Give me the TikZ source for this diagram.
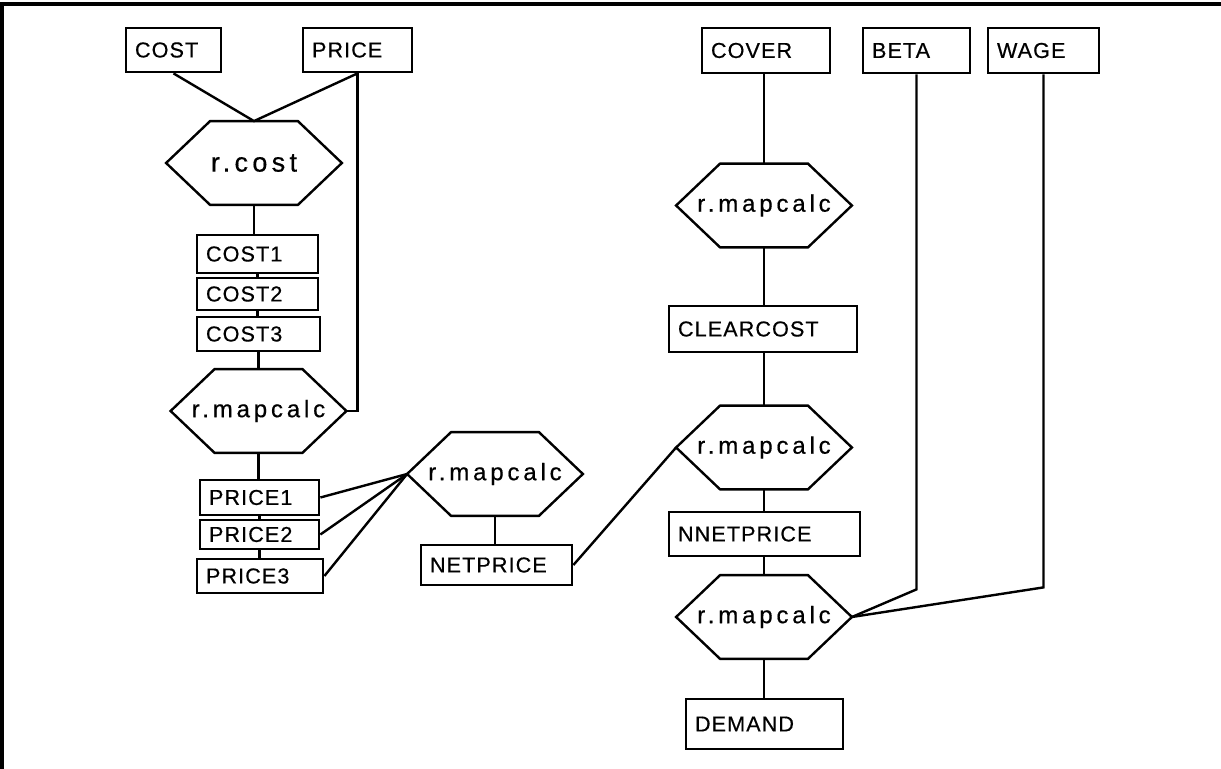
\documentclass[tikz,border=0pt]{standalone}
\usepackage{fontspec}
\setmainfont{Liberation Sans}
\newfontfamily\boxfont{Liberation Sans}[LetterSpace=5,FakeBold=0.5]
\newfontfamily\hexfont{Liberation Sans}[LetterSpace=16,FakeBold=0.5]
\usepackage{tikz}
\usetikzlibrary{positioning,calc}

\tikzset{
    mapbox/.style={draw, line width=1.4pt, inner xsep=4.5pt, inner ysep=0pt, align=left,
        font={\boxfont\fontsize{10.8}{12}\selectfont}},
    cmdhex/.style={inner sep=0pt, minimum width=87.5pt, minimum height=41.5pt,
        font={\hexfont\fontsize{12}{13}\selectfont}},
    link/.style={line width=1.2pt}
}

\begin{document}
\begin{tikzpicture}[x=0.5pt,y=-0.5pt]
    \useasboundingbox (0,0) rectangle (1221,769);
    \draw [line width=1.6pt] (1221,4) -- (2,4) -- (2,769);

    % left part
    \node [mapbox, text width=38.5pt, minimum height=22pt] (cost) at (173.5,50) {COST};
    \node [mapbox, text width=45.5pt, minimum height=22pt] (price) at (357.5,50) {PRICE};
    \node [cmdhex, font={\hexfont\fontsize{13.5}{14}\selectfont}] (rcost) at (254,163) {r.cost};
    \node [mapbox, text width=51.5pt, minimum height=19pt] (cost1) at (257.5,254) {COST1};
    \node [mapbox, text width=51.5pt, minimum height=16pt] (cost2) at (257.5,294) {COST2};
    \node [mapbox, text width=52.5pt, minimum height=17pt] (cost3) at (258.5,334) {COST3};
    \node [cmdhex] (mc1) at (258.5,411) {r.mapcalc};
    \node [mapbox, text width=50.5pt, minimum height=17.5pt] (price1) at (259.5,497.5) {PRICE1};
    \node [mapbox, text width=50.5pt, minimum height=14.5pt] (price2) at (259.5,534.5) {PRICE2};
    \node [mapbox, text width=54pt, minimum height=17pt] (price3) at (260,576) {PRICE3};
    \node [cmdhex] (mc2) at (495,474) {r.mapcalc};
    \node [mapbox, text width=66.5pt, minimum height=20pt] (netprice) at (496.5,565) {NETPRICE};

    % right part
    \node [mapbox, text width=55pt, minimum height=22.5pt] (cover) at (766,50.5) {COVER};
    \node [mapbox, text width=44.5pt, minimum height=22.5pt] (beta) at (916.5,50.5) {BETA};
    \node [mapbox, text width=46.5pt, minimum height=22.5pt] (wage) at (1043.5,50.5) {WAGE};
    \node [cmdhex] (mc3) at (764,205.5) {r.mapcalc};
    \node [mapbox, text width=85pt, minimum height=23pt] (clearcost) at (763,329) {CLEARCOST};
    \node [cmdhex] (mc4) at (764,447.5) {r.mapcalc};
    \node [mapbox, text width=86.5pt, minimum height=22pt] (nnetprice) at (764.5,534) {NNETPRICE};
    \node [cmdhex] (mc5) at (764,617) {r.mapcalc};
    \node [mapbox, text width=69.5pt, minimum height=25pt] (demand) at (764.5,724) {DEMAND};

    \foreach \h in {rcost,mc1,mc2,mc3,mc4,mc5}
        \draw [link] (\h.west) -- ([xshift=22pt]\h.north west) -- ([xshift=-22pt]\h.north east)
            -- (\h.east) -- ([xshift=-22pt]\h.south east) -- ([xshift=22pt]\h.south west) -- cycle;

    \draw [link] (cost.south) -- (rcost.north) -- (price.south);
    \draw [link] (price.south) |- (mc1.east);
    \draw [link] (rcost.south) -- (rcost.south |- cost1.north);
    \draw [link] (cost1.south) -- (cost1.south |- cost2.north);
    \draw [link] (cost2.south) -- (cost2.south |- cost3.north);
    \draw [link] (mc1.north |- cost3.south) -- (mc1.north);
    \draw [link] (mc1.south) -- (mc1.south |- price1.north);
    \draw [link] (price1.south) -- (price1.south |- price2.north);
    \draw [link] (price2.south) -- (price2.south |- price3.north);
    \draw [link] (price1.east) -- (mc2.west);
    \draw [link] (price2.east) -- (mc2.west);
    \draw [link] (price3.east) -- (mc2.west);
    \draw [link] (mc2.south) -- (mc2.south |- netprice.north);
    \draw [link] (netprice.east) -- (mc4.west);

    \draw [link] (mc3.north |- cover.south) -- (mc3.north);
    \draw [link] (mc3.south) -- (mc3.south |- clearcost.north);
    \draw [link] (mc4.north |- clearcost.south) -- (mc4.north);
    \draw [link] (mc4.south) -- (mc4.south |- nnetprice.north);
    \draw [link] (mc5.north |- nnetprice.south) -- (mc5.north);
    \draw [link] (mc5.south) -- (mc5.south |- demand.north);
    \draw [link] (beta.south) -- ++(0,515) -- (mc5.east);
    \draw [link] (wage.south) -- ++(0,513) -- (mc5.east);
\end{tikzpicture}
\end{document}
